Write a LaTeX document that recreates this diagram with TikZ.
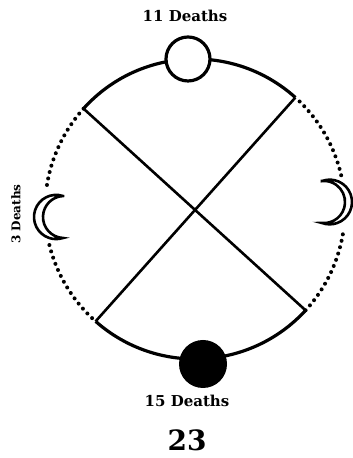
\documentclass[tikz,border=0pt]{standalone}
\usepackage{fontspec}
\setmainfont{DejaVu Serif}
\usetikzlibrary{positioning}
\tikzstyle{rim} = [
    line width=1.6pt
]
\tikzstyle{rimdots} = [
    line width=2pt,
    line cap=round,
    dash pattern=on 0pt off 3.3pt
]
\tikzstyle{cross} = [
    line width=1.3pt
]
\tikzstyle{opendot} = [
    circle,
    minimum size=22pt,
    inner sep=0pt,
    draw=black,
    fill=white,
    line width=1.6pt
]
\tikzstyle{fulldot} = [
    circle,
    minimum size=24pt,
    inner sep=0pt,
    fill=black
]
\tikzstyle{moon} = [
    line width=1.3pt,
    fill=white,
    draw=black
]
\tikzstyle{deaths} = [
    font=\bfseries\fontsize{7.5}{9}\selectfont,
    inner sep=0pt
]
\tikzstyle{pagenum} = [
    font=\bfseries\fontsize{14}{16}\selectfont,
    inner sep=0pt
]

\begin{document}
\begin{tikzpicture}[x=0.5pt, y=0.5pt]
\useasboundingbox (0,0) rectangle (352,458);

\begin{scope}[shift={(195,249)}]
\coordinate (nw) at (138:150);
\coordinate (ne) at (48:150);
\coordinate (sw) at (228.5:150);
\coordinate (se) at (-42.5:150);
\coordinate (lup) at (171.6:150);
\coordinate (llow) at (193.9:150);
\coordinate (rup) at (13:150);
\coordinate (rlow) at (-7.3:150);
\end{scope}

\draw [rim] (ne) arc[start angle=48, end angle=138, radius=150];
\draw [rim] (sw) arc[start angle=228.5, end angle=317.5, radius=150];
\draw [rimdots] (nw) arc[start angle=138, end angle=171.6, radius=150];
\draw [rimdots] (llow) arc[start angle=193.9, end angle=228.5, radius=150];
\draw [rimdots] (se) arc[start angle=-42.5, end angle=-7.3, radius=150];
\draw [rimdots] (rup) arc[start angle=13, end angle=48, radius=150];

\draw [cross] (nw) -- (se);
\draw [cross] (ne) -- (sw);

\node (full11) [opendot] at (188,399) {};
\node (full15) [fulldot] at (203,94) {};

\draw [moon] (63,262) arc[start angle=71.8, end angle=288.2, radius=22.1]
    arc[start angle=267.3, end angle=92.7, radius=21] -- cycle;
\draw [moon] (322,277) arc[start angle=110, end angle=-110, radius=22.35]
    arc[start angle=-95.2, end angle=95.2, radius=21.1] -- cycle;

\node (lab11) [deaths] at (185,442) {11 Deaths};
\node (lab15) [deaths] at (187,57) {15 Deaths};
\node (lab3) [deaths, rotate=90, font=\bfseries\fontsize{6}{7}\selectfont] at (16,244) {3 Deaths};
\node (page) [pagenum] at (187,18) {23};

\end{tikzpicture}
\end{document}
